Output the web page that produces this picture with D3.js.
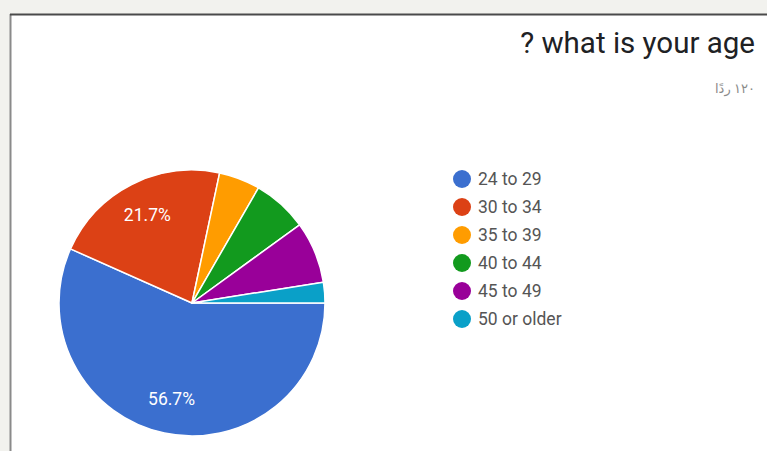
<!DOCTYPE html>
<html>
<head>
<meta charset="utf-8">
<script src="https://cdn.jsdelivr.net/npm/d3@7"></script>
<style>
  html, body { margin: 0; padding: 0; background: #f2f2ee; }
  svg { display: block; }
</style>
</head>
<body>
<script>
const categories = ["24 to 29", "30 to 34", "35 to 39", "40 to 44", "45 to 49", "50 or older"];
const counts = [68, 26, 6, 8, 9, 3];
const colors = ["#3b6fcf", "#dc4115", "#ff9c00", "#129a1e", "#990099", "#0aa0c8"];
const titleText = "? what is your age";
const subtitleText = "١٢٠ ردًا";

const W = 767, H = 451;
const svg = d3.select("body").append("svg").attr("width", W).attr("height", H);

// card
svg.append("rect").attr("x", 11).attr("y", 15).attr("width", W).attr("height", H).attr("fill", "#ffffff");
svg.append("line").attr("x1", 10.5).attr("x2", 10.5).attr("y1", 14).attr("y2", H).attr("stroke", "#8a8a8a").attr("stroke-width", 2);
svg.append("line").attr("x1", 10).attr("x2", W).attr("y1", 14.5).attr("y2", 14.5).attr("stroke", "#4a4a4a").attr("stroke-width", 2);

// title
svg.append("text").attr("x", 755).attr("y", 53).attr("text-anchor", "end")
  .attr("font-family", "Roboto, Arial, sans-serif").attr("font-size", 29.5).attr("fill", "#202124")
  .text(titleText);
svg.append("text").attr("x", 755).attr("y", 88).attr("text-anchor", "end")
  .attr("dominant-baseline", "central")
  .attr("font-family", "'Noto Sans', 'DejaVu Sans', sans-serif").attr("font-size", 13).attr("fill", "#8a8a8a")
  .text(subtitleText);

// pie
const total = d3.sum(counts);
const data = categories.map((c, i) => ({ cat: c, value: counts[i], color: colors[i] }));
const cx = 192, cy = 303, R = 133;
const pie = d3.pie().sort(null).value(d => d.value)
  .startAngle(Math.PI / 2).endAngle(Math.PI / 2 + 2 * Math.PI);
const arc = d3.arc().innerRadius(0).outerRadius(R);
const labelArc = d3.arc().innerRadius(R * 0.74).outerRadius(R * 0.74);
const g = svg.append("g").attr("transform", `translate(${cx},${cy})`);
const arcs = pie(data);
g.selectAll("path").data(arcs).enter().append("path")
  .attr("d", arc).attr("fill", d => d.data.color)
  .attr("stroke", "#ffffff").attr("stroke-width", 1.5).attr("stroke-linejoin", "round");
g.selectAll("text.lbl").data(arcs.filter(d => d.data.value / total > 0.1)).enter().append("text")
  .attr("class", "lbl")
  .attr("transform", d => `translate(${labelArc.centroid(d)})`)
  .attr("text-anchor", "middle").attr("dominant-baseline", "central")
  .attr("font-family", "Roboto, Arial, sans-serif").attr("font-size", 17.5).attr("fill", "#ffffff")
  .text(d => (d.data.value / total * 100).toFixed(1) + "%");

// legend
const leg = svg.append("g");
const items = leg.selectAll("g").data(data).enter().append("g")
  .attr("transform", (d, i) => `translate(462, ${179 + i * 28})`);
items.append("circle").attr("r", 9).attr("fill", d => d.color);
items.append("text").attr("x", 16).attr("y", 0).attr("dominant-baseline", "central")
  .attr("font-family", "Roboto, Arial, sans-serif").attr("font-size", 17.5).attr("fill", "#555555")
  .text(d => d.cat);
</script>
</body>
</html>
